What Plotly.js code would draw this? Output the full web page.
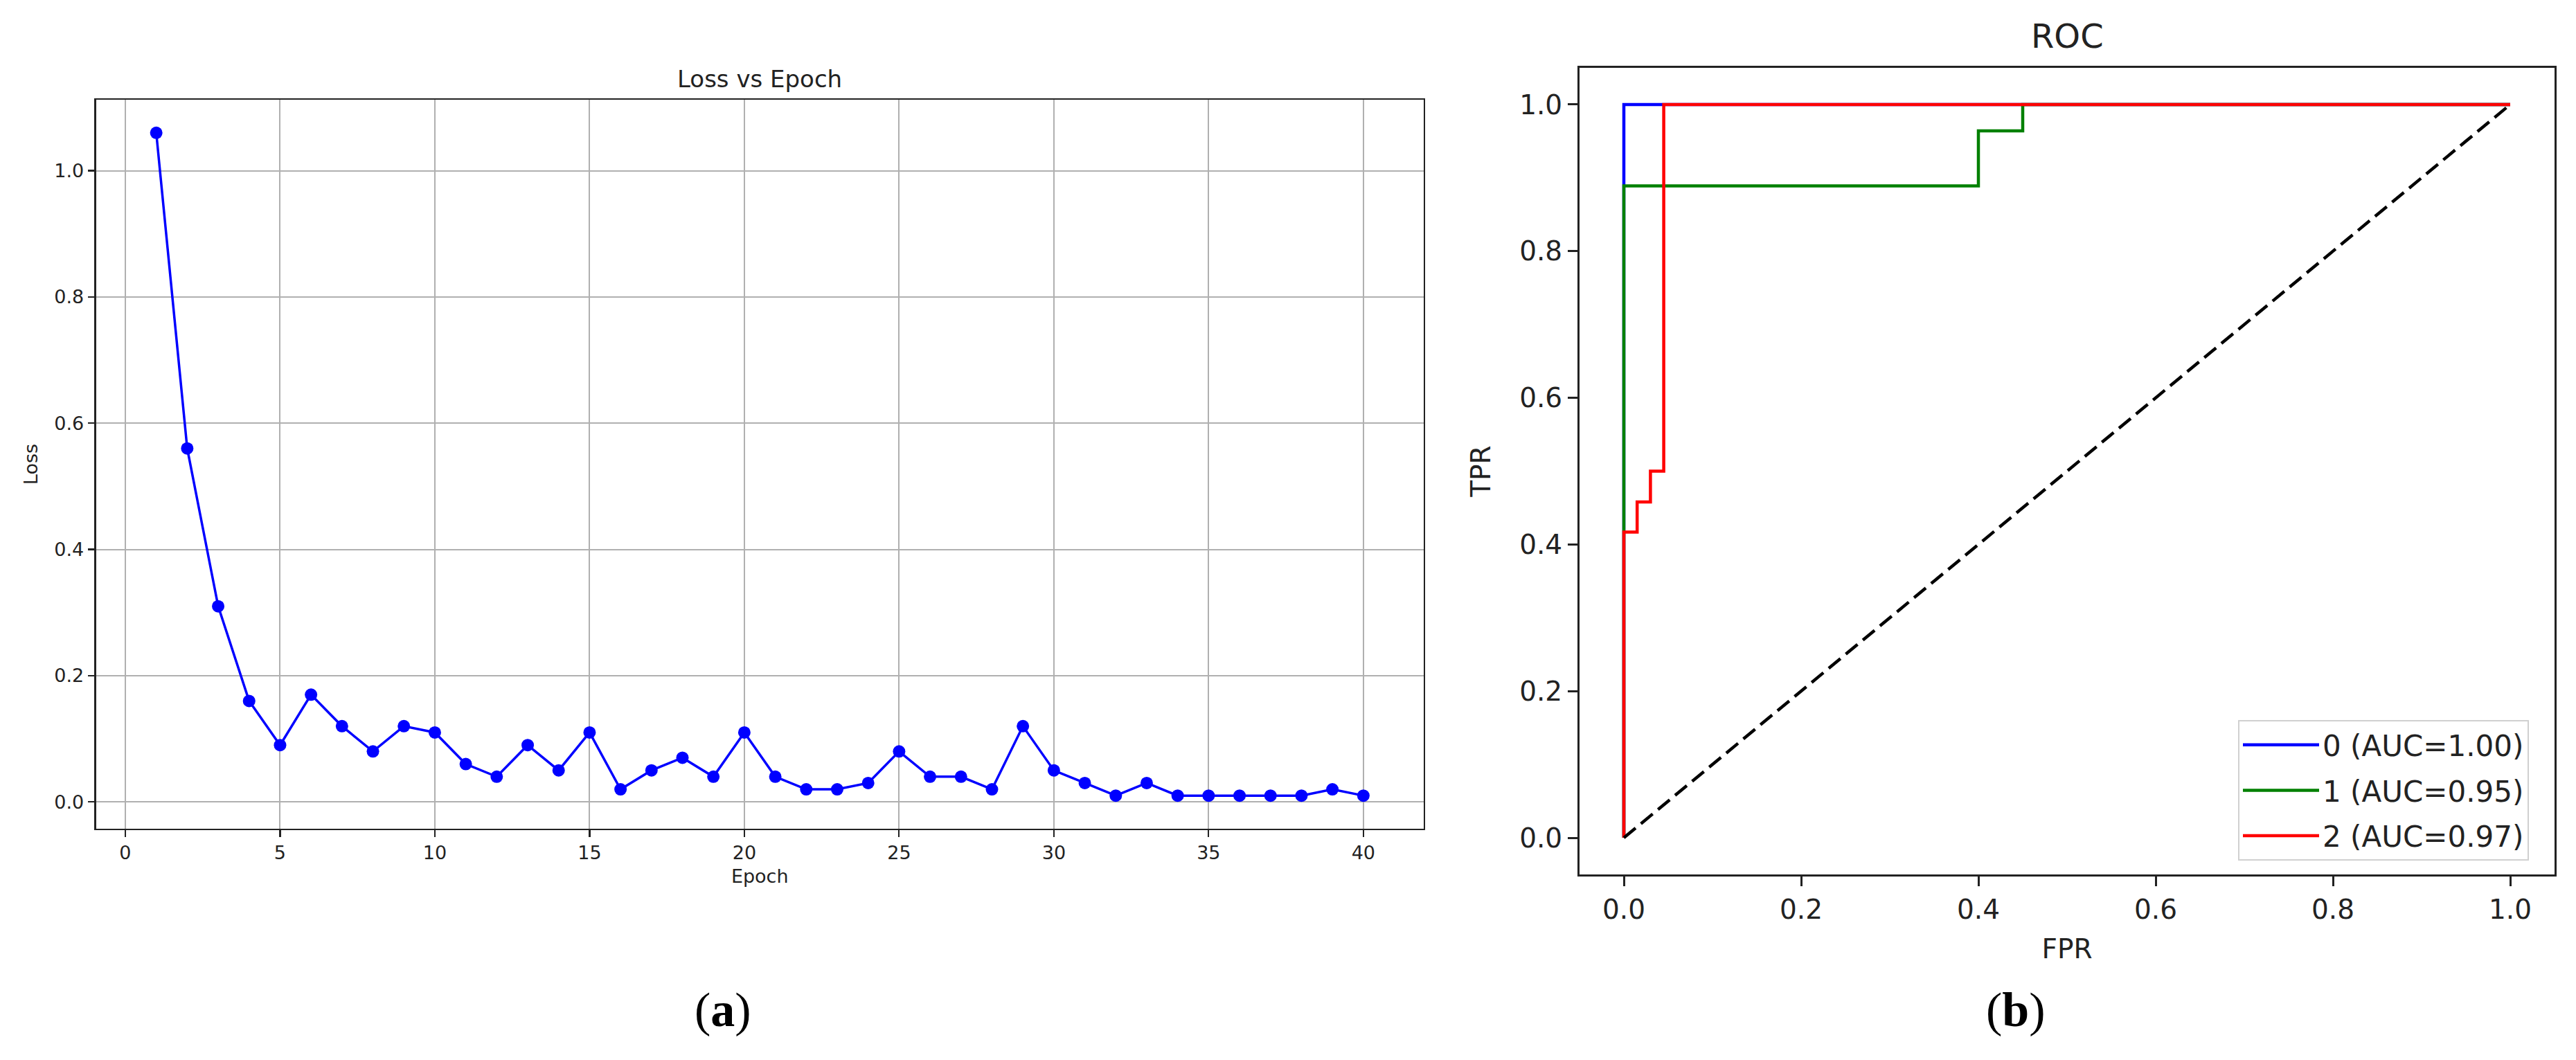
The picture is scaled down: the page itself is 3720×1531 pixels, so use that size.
<!DOCTYPE html>
<html>
<head>
<meta charset="utf-8">
<script src="https://cdn.plot.ly/plotly-3.0.1.min.js"></script>
<style>
  html, body { margin: 0; padding: 0; background: #fff; }
  #chart { width: 3720px; height: 1531px; }
</style>
</head>
<body>
<div id="chart"></div>
<script>
// (a) training loss per epoch
const epochs = [1, 2, 3, 4, 5, 6, 7, 8, 9, 10, 11, 12, 13, 14, 15, 16, 17, 18, 19, 20,
                21, 22, 23, 24, 25, 26, 27, 28, 29, 30, 31, 32, 33, 34, 35, 36, 37, 38, 39, 40];
const loss = [1.06, 0.56, 0.31, 0.16, 0.09, 0.17, 0.12, 0.08, 0.12, 0.11,
              0.06, 0.04, 0.09, 0.05, 0.11, 0.02, 0.05, 0.07, 0.04, 0.11,
              0.04, 0.02, 0.02, 0.03, 0.08, 0.04, 0.04, 0.02, 0.12, 0.05,
              0.03, 0.01, 0.03, 0.01, 0.01, 0.01, 0.01, 0.01, 0.02, 0.01];

// (b) ROC curves, one per class
const classNames = ['0 (AUC=1.00)', '1 (AUC=0.95)', '2 (AUC=0.97)'];
const classColors = ['blue', 'green', 'red'];
const fpr0 = [0, 0, 1];
const tpr0 = [0, 1, 1];
const fpr1 = [0, 0, 0.4, 0.4, 0.45, 0.45, 1];
const tpr1 = [0, 0.889, 0.889, 0.964, 0.964, 1, 1];
const fpr2 = [0, 0, 0.015, 0.015, 0.03, 0.03, 0.045, 0.045, 1];
const tpr2 = [0, 0.417, 0.417, 0.458, 0.458, 0.5, 0.5, 1, 1];
const chanceX = [0, 1];
const chanceY = [0, 1];

const W = 3720, H = 1531;
const txt = '#222';
const sans = 'DejaVu Sans, sans-serif';

const lossTrace = {
  x: epochs, y: loss,
  type: 'scatter', mode: 'lines+markers',
  line: { color: 'blue', width: 3.5 },
  marker: { color: 'blue', size: 18 },
  xaxis: 'x', yaxis: 'y',
  showlegend: false
};

const rocFpr = [fpr0, fpr1, fpr2];
const rocTpr = [tpr0, tpr1, tpr2];
const rocTraces = classNames.map((name, i) => ({
  x: rocFpr[i], y: rocTpr[i],
  type: 'scatter', mode: 'lines',
  name: name, legendgroup: 'c' + i,
  line: { color: classColors[i], width: 4.5 },
  xaxis: 'x2', yaxis: 'y2'
}));

const chanceTrace = {
  x: chanceX, y: chanceY,
  type: 'scatter', mode: 'lines',
  line: { color: 'black', width: 4.5, dash: '22px,10px' },
  xaxis: 'x2', yaxis: 'y2',
  showlegend: false
};

function axisStyle(fs, lw, extra) {
  return Object.assign({
    showline: true, mirror: true, linecolor: '#222', linewidth: lw,
    ticks: 'outside', ticklen: fs * 0.36, tickwidth: lw, tickcolor: '#222',
    tickfont: { family: sans, size: fs, color: txt },
    zeroline: false, automargin: false
  }, extra);
}

const layout = {
  width: W, height: H,
  margin: { l: 0, r: 0, t: 0, b: 0 },
  paper_bgcolor: '#fff', plot_bgcolor: '#fff',
  font: { family: sans, color: txt },
  xaxis: axisStyle(27, 2.2, {
    domain: [138.5 / W, 2056 / W], anchor: 'y',
    range: [-0.95, 41.95], tick0: 0, dtick: 5,
    showgrid: true, gridcolor: '#b0b0b0', gridwidth: 2,
    title: { text: 'Epoch', font: { family: sans, size: 27, color: txt }, standoff: 10 }
  }),
  yaxis: axisStyle(27, 2.2, {
    domain: [1 - 1197 / H, 1 - 144 / H], anchor: 'x',
    range: [-0.0425, 1.1125], tick0: 0, dtick: 0.2, tickformat: '.1f',
    showgrid: true, gridcolor: '#b0b0b0', gridwidth: 2,
    title: { text: 'Loss', font: { family: sans, size: 27, color: txt }, standoff: 16 }
  }),
  xaxis2: axisStyle(39, 3, {
    domain: [2281 / W, 3689 / W], anchor: 'y2',
    range: [-0.05, 1.05], tick0: 0, dtick: 0.2, tickformat: '.1f',
    showgrid: false,
    title: { text: 'FPR', font: { family: sans, size: 39, color: txt }, standoff: 22 }
  }),
  yaxis2: axisStyle(39, 3, {
    domain: [1 - 1263 / H, 1 - 98 / H], anchor: 'x2',
    range: [-0.05, 1.05], tick0: 0, dtick: 0.2, tickformat: '.1f',
    showgrid: false,
    title: { text: 'TPR', font: { family: sans, size: 39, color: txt }, standoff: 30 }
  }),
  legend: {
    x: 3652 / W, y: 1 - 1243 / H, xanchor: 'right', yanchor: 'bottom',
    bgcolor: 'rgba(255,255,255,0.8)', bordercolor: '#d0d0d0', borderwidth: 2,
    font: { family: sans, size: 42, color: txt },
    itemwidth: 110, tracegroupgap: 8
  },
  annotations: [
    { text: 'Loss vs Epoch', x: 1097 / W, y: 1 - 114 / H, xref: 'paper', yref: 'paper',
      xanchor: 'center', yanchor: 'middle', showarrow: false,
      font: { family: sans, size: 34, color: txt } },
    { text: 'ROC', x: 2985 / W, y: 1 - 52 / H, xref: 'paper', yref: 'paper',
      xanchor: 'center', yanchor: 'middle', showarrow: false,
      font: { family: sans, size: 48, color: txt } },
    { text: '(<b>a</b>)', x: 1044 / W, y: 1 - 1458 / H, xref: 'paper', yref: 'paper',
      xanchor: 'center', yanchor: 'middle', showarrow: false,
      font: { family: 'Liberation Serif, serif', size: 70, color: '#000' } },
    { text: '(<b>b</b>)', x: 2911 / W, y: 1 - 1458 / H, xref: 'paper', yref: 'paper',
      xanchor: 'center', yanchor: 'middle', showarrow: false,
      font: { family: 'Liberation Serif, serif', size: 70, color: '#000' } }
  ]
};

Plotly.newPlot('chart', [lossTrace].concat(rocTraces, [chanceTrace]), layout, { staticPlot: true });
</script>
</body>
</html>
